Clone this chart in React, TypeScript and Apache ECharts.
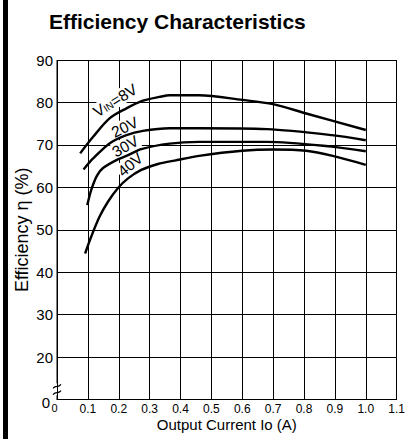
import React, { useEffect, useRef } from "react";
import * as echarts from "echarts";

const FONT = "'Liberation Sans', Arial, Helvetica, sans-serif";

const titleText = "Efficiency Characteristics";
const xAxisName = "Output Current Io (A)";
const yAxisName = "Efficiency η (%)";

const xTickMin = 0;
const xTickMax = 1.1;
const xTickStep = 0.1;
const yTickMin = 10; // shown as "0" (broken axis)
const yTickMax = 90;
const yTickStep = 10;

const io8V = [0.075, 0.117, 0.171, 0.225, 0.278, 0.332, 0.365, 0.46, 0.6, 0.7, 0.807, 1.0];
const eff8V = [68.0, 71.9, 76.3, 78.6, 80.4, 81.3, 81.7, 81.7, 80.6, 79.6, 77.4, 73.5];

const io20V = [0.086, 0.117, 0.171, 0.225, 0.278, 0.365, 0.46, 0.68, 0.89, 1.0];
const eff20V = [64.2, 66.8, 70.4, 72.3, 73.3, 73.9, 73.9, 73.7, 72.3, 71.1];

const io30V = [0.098, 0.111, 0.13, 0.15, 0.197, 0.225, 0.273, 0.365, 0.46, 0.68, 0.89, 1.0];
const eff30V = [55.8, 59.4, 62.8, 64.6, 66.6, 67.4, 69.0, 70.3, 70.7, 70.7, 69.6, 68.5];

const io40V = [0.091, 0.111, 0.138, 0.165, 0.197, 0.23, 0.273, 0.327, 0.381, 0.46, 0.6, 0.7, 0.807, 0.893, 1.0];
const eff40V = [44.4, 48.4, 53.1, 56.6, 59.8, 62.1, 64.1, 65.5, 66.3, 67.4, 68.6, 68.9, 68.6, 67.4, 65.3];

// curve labels: [text key, x (A), y (%), rotation deg]
const curveLabels: [string, number, number, number][] = [
  ["8V", 0.188, 80.5, 32],
  ["20V", 0.219, 74.2, 26],
  ["30V", 0.221, 69.7, 30],
  ["40V", 0.237, 65.4, 40],
];

function pairs(xs: number[], ys: number[]) {
  return xs.map((x, i) => [x, ys[i]]);
}

export default function App() {
  const ref = useRef<HTMLDivElement>(null);
  useEffect(() => {
    document.body.style.margin = "0";
    const chart = echarts.init(ref.current!, undefined, { renderer: "svg" });
    const mkSeries = (name: string, xs: number[], ys: number[]) => ({
      name,
      type: "line",
      data: pairs(xs, ys),
      smooth: 0.3,
      showSymbol: false,
      symbol: "none",
      lineStyle: { color: "#000", width: 2.4 },
      z: 3,
    });
    chart.setOption({
      animation: false,
      backgroundColor: "#fff",
      title: {
        text: titleText,
        left: 44,
        top: 6,
        textStyle: { fontFamily: FONT, fontSize: 21, fontWeight: "bold", color: "#000" },
      },
      grid: { left: 57, right: 11, top: 60, bottom: 39.5, containLabel: false },
      xAxis: {
        type: "value",
        min: xTickMin,
        max: xTickMax,
        interval: xTickStep,
        name: xAxisName,
        nameLocation: "middle",
        nameGap: 17,
        nameMoveOverlap: false,
        nameTextStyle: { fontFamily: FONT, fontSize: 15, color: "#000" },
        axisLine: { show: true, lineStyle: { color: "#000", width: 1 } },
        axisTick: { show: false },
        splitLine: { show: true, lineStyle: { color: "#000", width: 1 } },
        axisLabel: {
          margin: 3,
          fontFamily: FONT,
          fontSize: 12,
          color: "#000",
          formatter: (v: number) => (Math.abs(v) < 1e-9 ? "{z|0}" : v.toFixed(1)),
          rich: { z: { fontSize: 11, fontFamily: FONT, color: "#000", padding: [0, 5, 0, 0] } },
          showMaxLabel: true,
          showMinLabel: true,
        },
      },
      yAxis: {
        type: "value",
        min: yTickMin,
        max: yTickMax,
        interval: yTickStep,
        name: yAxisName,
        nameLocation: "middle",
        nameGap: 26,
        nameMoveOverlap: false,
        nameRotate: 90,
        nameTextStyle: { fontFamily: FONT, fontSize: 18, color: "#000" },
        axisLine: { show: false },
        axisTick: { show: false },
        splitLine: { show: true, lineStyle: { color: "#000", width: 1 } },
        axisLabel: {
          margin: 4,
          fontFamily: FONT,
          fontSize: 15,
          color: "#000",
          formatter: (v: number) => (v === yTickMin ? "{z|0}" : String(v)),
          rich: { z: { fontSize: 15, fontFamily: FONT, color: "#000", padding: [6, 3, 0, 0] } },
        },
      },
      series: [
        mkSeries("8V", io8V, eff8V),
        mkSeries("20V", io20V, eff20V),
        mkSeries("30V", io30V, eff30V),
        mkSeries("40V", io40V, eff40V),
      ],
    });

    const p = (x: number, y: number) => chart.convertToPixel({ gridIndex: 0 }, [x, y]) as number[];
    const graphics: any[] = [];
    // left black bar
    graphics.push({ type: "rect", shape: { x: 3, y: 0, width: 5, height: 439 }, style: { fill: "#000" }, z: 10 });
    // left axis line with break
    const top = p(0, yTickMax);
    const bot = p(0, yTickMin);
    const brkTop = p(0, 13.8);
    const brkBot = p(0, 11.0);
    graphics.push({ type: "line", shape: { x1: top[0], y1: top[1], x2: brkTop[0], y2: brkTop[1] }, style: { stroke: "#000", lineWidth: 1 }, z: 5 });
    graphics.push({ type: "line", shape: { x1: brkBot[0], y1: brkBot[1], x2: bot[0], y2: bot[1] }, style: { stroke: "#000", lineWidth: 1 }, z: 5 });
    const bx = top[0];
    const m1 = p(0, 13.1);
    const m2 = p(0, 11.6);
    [m1, m2].forEach((m) => {
      graphics.push({
        type: "bezierCurve",
        shape: { x1: bx - 4, y1: m[1] + 2, cpx1: bx - 1, cpy1: m[1] - 2, cpx2: bx + 1, cpy2: m[1] + 2, x2: bx + 4, y2: m[1] - 2 },
        style: { stroke: "#000", lineWidth: 1.2, fill: null },
        z: 5,
      });
    });
    // curve labels
    curveLabels.forEach(([key, x, y, rot]) => {
      const c = p(x, y);
      const text = key === "8V" ? "{a|V}{b|IN}{a|=8V}" : `{a|${key}}`;
      graphics.push({
        type: "text",
        x: c[0],
        y: c[1],
        rotation: (rot * Math.PI) / 180,
        z: 1,
        style: {
          text,
          fontSize: 15.5,
          fontFamily: FONT,
          align: "center",
          verticalAlign: "middle",
          fill: "#000",
          backgroundColor: "#fff",
          padding: [0, 1, 0, 1],
          rich: {
            a: { fontSize: 15.5, fontFamily: FONT, fill: "#000" },
            b: { fontSize: 10, fontFamily: FONT, fill: "#000", padding: [4, 0, 0, 0] },
          },
        },
      });
    });
    chart.setOption({ graphic: graphics });
    return () => chart.dispose();
  }, []);
  return <div ref={ref} style={{ width: 408, height: 439 }} />;
}
